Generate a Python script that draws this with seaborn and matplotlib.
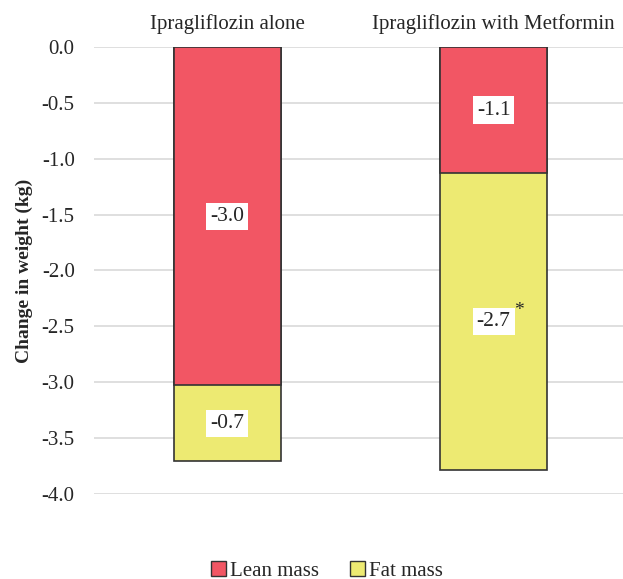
import matplotlib
matplotlib.use('Agg')
import matplotlib.pyplot as plt
import seaborn as sns
import pandas as pd
from matplotlib.patches import Patch

groups = ['Ipragliflozin alone', 'Ipragliflozin with Metformin']
lean_mass = [-3.03, -1.13]
fat_mass = [-0.68, -2.66]
lean_labels = ['-3.0', '-1.1']
fat_labels = ['-0.7', '-2.7']
fat_marks = ['', '*']

lean_color = '#F25664'
fat_color = '#EDEA72'
edge = '#333333'

sns.set_theme(style='white')
plt.rcParams['font.family'] = ['Liberation Serif', 'DejaVu Serif']

df = pd.DataFrame({'group': groups, 'lean': lean_mass, 'fat': fat_mass})
df['total'] = df['lean'] + df['fat']

fig = plt.figure(figsize=(6.23, 5.79), dpi=100)
ax = fig.add_axes([0.151, 0.147, 0.855, 0.772])

# total first (fat colour), lean drawn on top from 0
sns.barplot(data=df, x='group', y='total', color=fat_color, width=0.4,
            edgecolor=edge, linewidth=1.2, saturation=1, ax=ax, zorder=2)
sns.barplot(data=df, x='group', y='lean', color=lean_color, width=0.4,
            edgecolor=edge, linewidth=1.2, saturation=1, ax=ax, zorder=3)

ax.set_ylim(-4.0, 0.0)
ax.set_xlim(-0.5, 1.5)
ax.set_yticks([-4.0, -3.5, -3.0, -2.5, -2.0, -1.5, -1.0, -0.5, 0.0])
ax.set_yticklabels([f'{v:.1f}' for v in ax.get_yticks()], fontsize=15)
ax.grid(axis='y', color='#d9d9d9', linewidth=1.2, zorder=0)
ax.set_axisbelow(True)
for s in ax.spines.values():
    s.set_visible(False)
ax.tick_params(axis='y', length=0, pad=14)
ax.xaxis.tick_top()
ax.set_xticks(range(len(groups)))
ax.set_xticklabels(groups, fontsize=15)
ax.tick_params(axis='x', length=0, pad=9)
ax.set_xlabel('')
ax.set_ylabel('Change in weight (kg)', fontsize=14, fontweight='bold', labelpad=6)

box = dict(facecolor='white', edgecolor='none', pad=3)
for i in range(len(groups)):
    ax.text(i, lean_mass[i] / 2, lean_labels[i], ha='center', va='center',
            fontsize=15.5, bbox=box, zorder=5)
    fy = lean_mass[i] + fat_mass[i] / 2
    ax.text(i, fy, fat_labels[i], ha='center', va='center',
            fontsize=15.5, bbox=box, zorder=5)
    if fat_marks[i]:
        ax.annotate(fat_marks[i], xy=(i, fy), xytext=(18, 8), textcoords='offset points',
                    fontsize=14, ha='center', va='center', zorder=6)

handles = [Patch(facecolor=lean_color, edgecolor=edge, label='Lean mass'),
           Patch(facecolor=fat_color, edgecolor=edge, label='Fat mass')]
fig.legend(handles=handles, loc='lower center', ncol=2, frameon=False,
           fontsize=15, bbox_to_anchor=(0.525, -0.035), handlelength=0.7,
           handleheight=0.7, handletextpad=0.2, columnspacing=1.5)

fig.savefig('out.png', dpi=100)
